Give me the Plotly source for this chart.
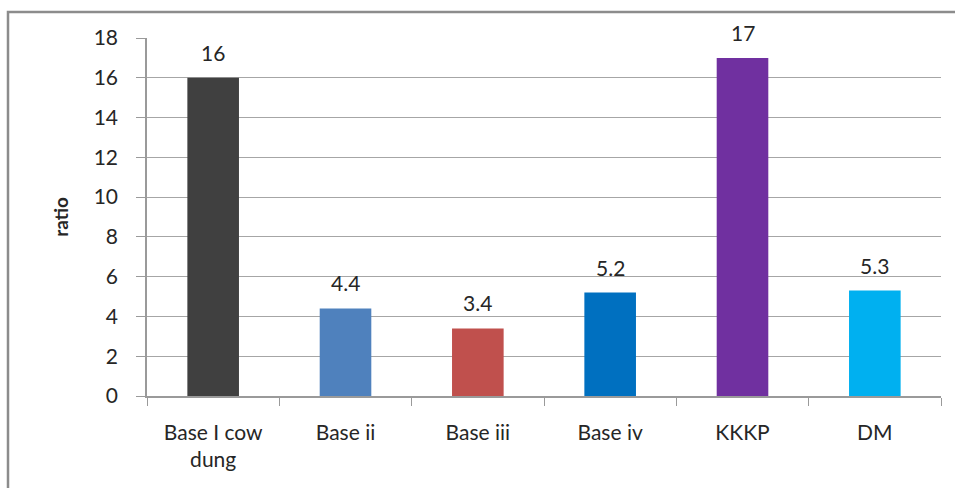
import plotly.graph_objects as go

categories = ["Base I cow<br>dung", "Base ii", "Base iii", "Base iv", "KKKP", "DM"]
ratios = [16, 4.4, 3.4, 5.2, 17, 5.3]
colors = ["#404040", "#4F81BD", "#C0504D", "#0070C0", "#7030A0", "#00B0F0"]
y_ticks = [0, 2, 4, 6, 8, 10, 12, 14, 16, 18]

W, H = 955, 488
L, R, T, B = 147, 14, 38, 92
pw, ph = W - L - R, H - T - B

fig = go.Figure(
    go.Bar(
        x=categories,
        y=ratios,
        marker=dict(color=colors, line=dict(width=0)),
        width=0.39,
    )
)

# value labels floating above each bar
for cat, val in zip(categories, ratios):
    fig.add_annotation(
        x=cat, y=val, text=f"{val:g}", showarrow=False,
        yanchor="bottom", yshift=11,
        font=dict(size=21, color="#262626"),
    )

# outer chart frame
fig.add_shape(
    type="rect", xref="paper", yref="paper",
    x0=(8 - L) / pw, x1=1 + (R + 10) / pw,
    y0=-(B + 10) / ph, y1=1 + (T - 12) / ph,
    line=dict(color="#8C8C8C", width=2.5), fillcolor="rgba(0,0,0,0)",
    layer="above",
)

fig.update_layout(
    width=W, height=H,
    margin=dict(l=L, r=R, t=T, b=B),
    paper_bgcolor="white", plot_bgcolor="white",
    font=dict(family="Lato, 'Open Sans', sans-serif", size=21, color="#262626"),
    showlegend=False,
    xaxis=dict(
        showline=True, linecolor="#9A9A9A", linewidth=1.5,
        ticks="outside", tickson="boundaries", ticklen=8, tickcolor="#9A9A9A",
        tickfont=dict(size=21),
        ticklabelstandoff=17,
        showgrid=False,
    ),
    yaxis=dict(
        range=[0, 18], tickvals=y_ticks,
        showline=True, linecolor="#9A9A9A", linewidth=1.5,
        ticks="outside", ticklen=9, tickcolor="#9A9A9A",
        showgrid=True, gridcolor="#A6A6A6", gridwidth=1.3,
        tickfont=dict(size=21),
        ticklabelstandoff=14,
        title=dict(text="<b>ratio</b>", font=dict(size=19), standoff=20),
        zeroline=False,
    ),
)

fig.write_html("out.html")
